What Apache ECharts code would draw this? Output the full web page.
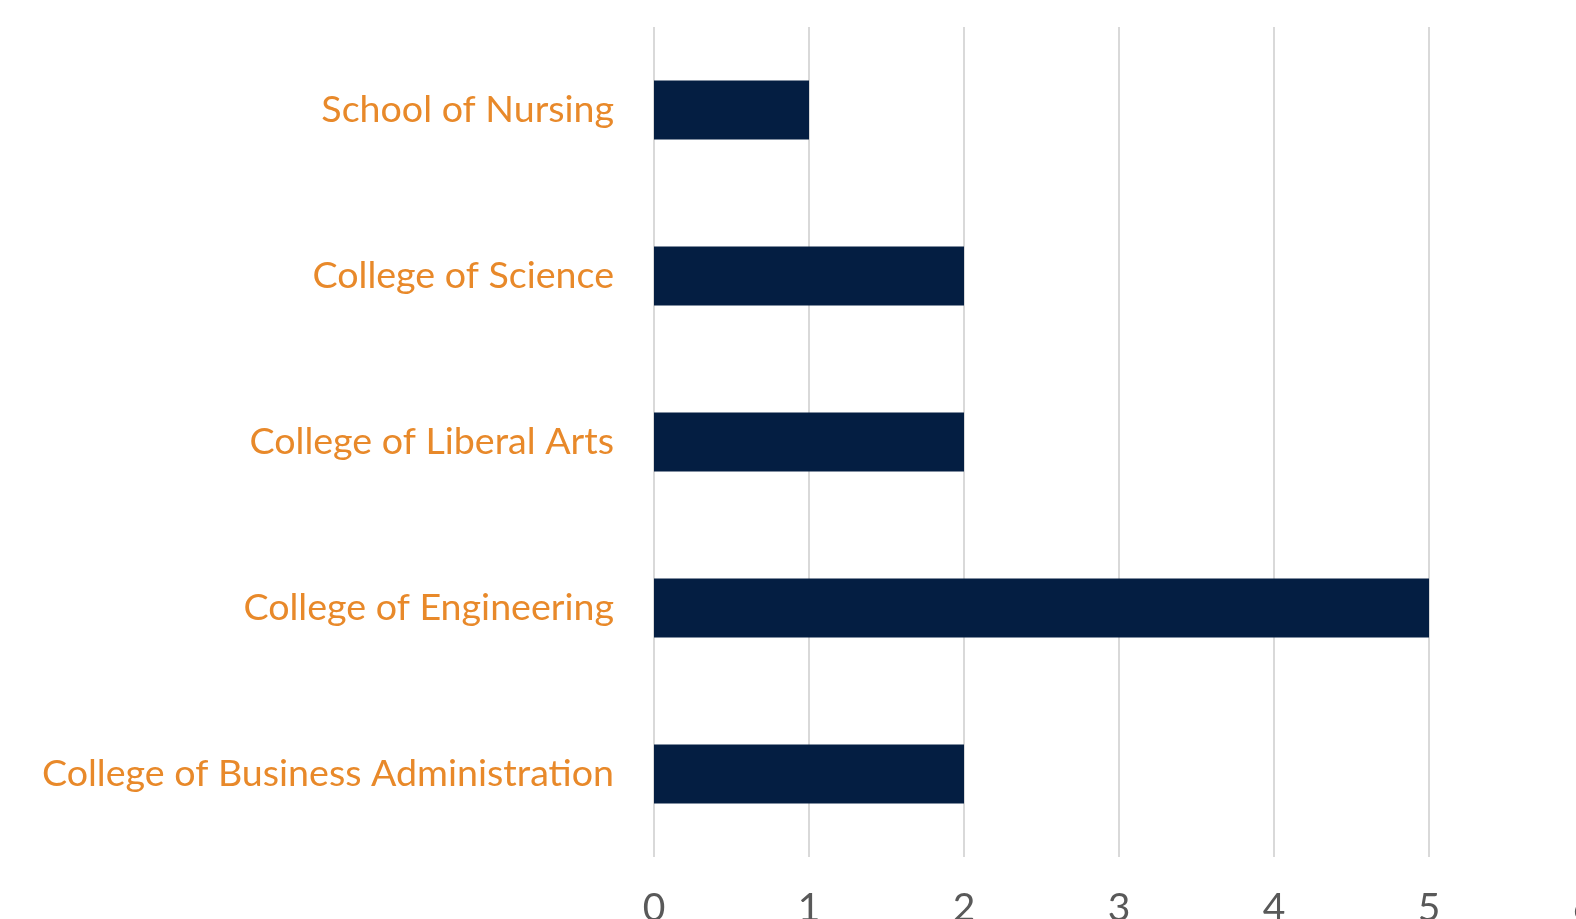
<!DOCTYPE html>
<html>
<head>
<meta charset="utf-8">
<script src="https://cdn.jsdelivr.net/npm/echarts@6/dist/echarts.min.js"></script>
<style>
html,body{margin:0;padding:0;background:#fff;overflow:hidden;width:1576px;height:919px;}
#chart{width:1600px;height:919px;}
</style>
</head>
<body>
<div id="chart"></div>
<script>
const categories = ["College of Business Administration", "College of Engineering", "College of Liberal Arts", "College of Science", "School of Nursing"];
const values = [2, 5, 2, 2, 1];
const xTicks = [0, 1, 2, 3, 4, 5, 6];

const chart = echarts.init(document.getElementById('chart'));
chart.setOption({
  animation: false,
  grid: { left: 654, right: 16, top: 27, bottom: 62, containLabel: false, outerBoundsMode: 'none' },
  xAxis: {
    type: 'value', min: xTicks[0], max: xTicks[xTicks.length - 1], interval: 1,
    axisLine: { show: false }, axisTick: { show: false },
    splitLine: { show: true, lineStyle: { color: '#d9d9d9', width: 2 } },
    axisLabel: { color: '#595959', fontFamily: 'Lato', fontSize: 39, margin: 32 }
  },
  yAxis: {
    type: 'category', data: categories,
    axisLine: { show: false }, axisTick: { show: false },
    axisLabel: { color: '#E8892A', fontFamily: 'Lato', fontSize: 37.6, margin: 40 }
  },
  series: [{
    type: 'bar', data: values, barWidth: 59,
    itemStyle: { color: '#041E42' }
  }]
});
</script>
</body>
</html>
